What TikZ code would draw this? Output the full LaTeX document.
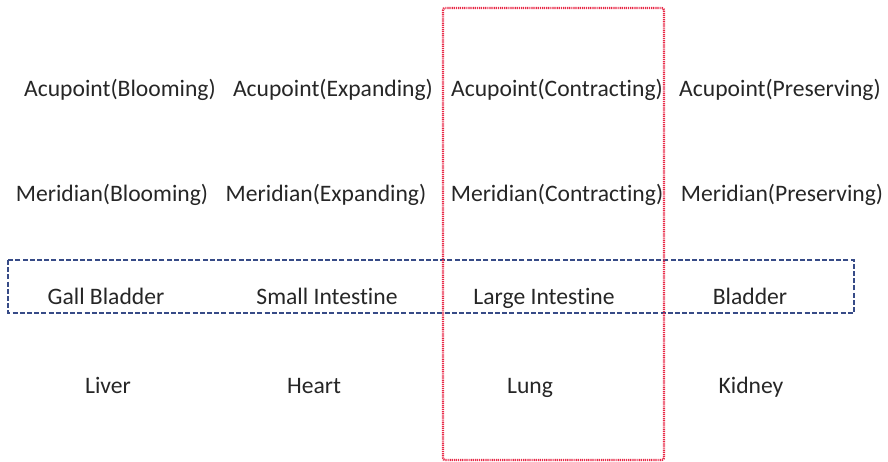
\documentclass[tikz,border=0pt]{standalone}
\usepackage{fontspec}
\setmainfont[Ligatures={NoCommon,NoContextual,NoRare}]{Carlito}
\begin{document}
\begin{tikzpicture}[x=1pt,y=-1pt,
  lbl/.style={anchor=base,inner sep=0pt,text=black!85,font=\fontsize{23.6}{28}\selectfont},
  redbox/.style={draw={rgb,255:red,232;green,40;blue,70},line width=2.2pt,dash pattern=on 1.2pt off 0.9pt,rounded corners=2pt},
  bluebox/.style={draw={rgb,255:red,55;green,75;blue,135},line width=1.8pt,dash pattern=on 5pt off 2.2pt}]
\useasboundingbox (0,0) rectangle (888,462);
\node[lbl] (a1) at (120,97) {Acupoint(Blooming)};
\node[lbl] (a2) at (333,97) {Acupoint(Expanding)};
\node[lbl] (a3) at (557,97) {Acupoint(Contracting)};
\node[lbl] (a4) at (780,97) {Acupoint(Preserving)};
\node[lbl] (m1) at (112,202) {Meridian(Blooming)};
\node[lbl] (m2) at (326,202) {Meridian(Expanding)};
\node[lbl] (m3) at (557,202) {Meridian(Contracting)};
\node[lbl] (m4) at (782,202) {Meridian(Preserving)};
\node[lbl] (g1) at (106,304) {Gall Bladder};
\node[lbl] (g2) at (327,304) {Small Intestine};
\node[lbl] (g3) at (544,304) {Large Intestine};
\node[lbl] (g4) at (750,304) {Bladder};
\node[lbl] (o1) at (108,393) {Liver};
\node[lbl] (o2) at (314,393) {Heart};
\node[lbl] (o3) at (530,393) {Lung};
\node[lbl] (o4) at (751,393) {Kidney};
\draw[bluebox] (8,260) rectangle (854,313);
\draw[redbox] (443,8) rectangle (664,460);
\end{tikzpicture}
\end{document}
